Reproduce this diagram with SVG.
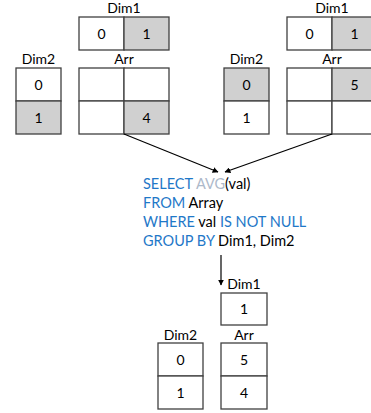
<svg xmlns="http://www.w3.org/2000/svg" width="371" height="413" viewBox="0 0 371 413">
<defs>
<style>
.c{fill:#fff;stroke:#404040;stroke-width:1.3}
.g{fill:#d0d0d0;stroke:#404040;stroke-width:1.3}
text{font-family:Lato,"Liberation Sans",sans-serif;font-size:14px;fill:#000}
.m{text-anchor:middle}
.sql{font-size:14.5px}
.k{fill:#1f78c8}
.f{fill:#adb9ca}
.ln{stroke:#000;stroke-width:1.2;fill:none}
</style>
<marker id="ah" viewBox="0 0 10 10" refX="9" refY="5" markerWidth="5" markerHeight="5" orient="auto"><path d="M0,0 L10,5 L0,10 z" fill="#000"/></marker>
</defs>
<rect width="371" height="413" fill="#fff"/>
<g id="left-dim1">
<text class="m" x="124" y="13">Dim1</text>
<rect class="c" x="79" y="17" width="45" height="33"/><rect class="g" x="124" y="17" width="45" height="33"/>
<text class="m" x="101.5" y="38.5">0</text><text class="m" x="146.5" y="38.5">1</text>
</g>
<g id="left-dim2">
<text class="m" x="38.5" y="64">Dim2</text>
<rect class="c" x="16" y="68" width="45" height="33"/><rect class="g" x="16" y="101" width="45" height="33"/>
<text class="m" x="38.5" y="89.5">0</text><text class="m" x="38.5" y="122.5">1</text>
</g>
<g id="left-arr">
<text class="m" x="124" y="64">Arr</text>
<rect class="c" x="79" y="68" width="45" height="33"/><rect class="c" x="124" y="68" width="45" height="33"/>
<rect class="c" x="79" y="101" width="45" height="33"/><rect class="g" x="124" y="101" width="45" height="33"/>
<text class="m" x="146.5" y="122.5">4</text>
</g>
<g id="right-dim1">
<text class="m" x="332" y="13">Dim1</text>
<rect class="c" x="287" y="17" width="45" height="33"/><rect class="g" x="332" y="17" width="45" height="33"/>
<text class="m" x="309.5" y="38.5">0</text><text class="m" x="354.5" y="38.5">1</text>
</g>
<g id="right-dim2">
<text class="m" x="246.5" y="64">Dim2</text>
<rect class="g" x="224" y="68" width="45" height="33"/><rect class="c" x="224" y="101" width="45" height="33"/>
<text class="m" x="246.5" y="89.5">0</text><text class="m" x="246.5" y="122.5">1</text>
</g>
<g id="right-arr">
<text class="m" x="332" y="64">Arr</text>
<rect class="c" x="287" y="68" width="45" height="33"/><rect class="g" x="332" y="68" width="45" height="33"/>
<rect class="c" x="287" y="101" width="45" height="33"/><rect class="c" x="332" y="101" width="45" height="33"/>
<text class="m" x="354.5" y="89.5">5</text>
</g>
<g id="query">
<text class="sql" x="143" y="189"><tspan class="k">SELECT </tspan><tspan class="f">AVG</tspan>(val)</text>
<text class="sql" x="143" y="208"><tspan class="k">FROM </tspan>Array</text>
<text class="sql" x="143" y="227"><tspan class="k">WHERE </tspan>val <tspan class="k">IS NOT NULL</tspan></text>
<text class="sql" x="143" y="246"><tspan class="k">GROUP BY </tspan>Dim1, Dim2</text>
</g>
<g id="result-dim1">
<text class="m" x="244" y="289">Dim1</text>
<rect class="c" x="221" y="293" width="46" height="32"/>
<text class="m" x="244" y="314">1</text>
</g>
<g id="result-dim2">
<text class="m" x="180.5" y="340">Dim2</text>
<rect class="c" x="158" y="343" width="45" height="33"/><rect class="c" x="158" y="376" width="45" height="33"/>
<text class="m" x="180.5" y="364.5">0</text><text class="m" x="180.5" y="397.5">1</text>
</g>
<g id="result-arr">
<text class="m" x="244" y="340">Arr</text>
<rect class="c" x="221" y="343" width="46" height="33"/><rect class="c" x="221" y="376" width="46" height="33"/>
<text class="m" x="244" y="364.5">5</text><text class="m" x="244" y="397.5">4</text>
</g>
<g id="connectors">
<line class="ln" x1="124" y1="134" x2="218" y2="172" marker-end="url(#ah)"/>
<line class="ln" x1="332" y1="134" x2="225" y2="172" marker-end="url(#ah)"/>
<line class="ln" x1="221" y1="255" x2="221" y2="285" marker-end="url(#ah)"/>
</g>
</svg>
